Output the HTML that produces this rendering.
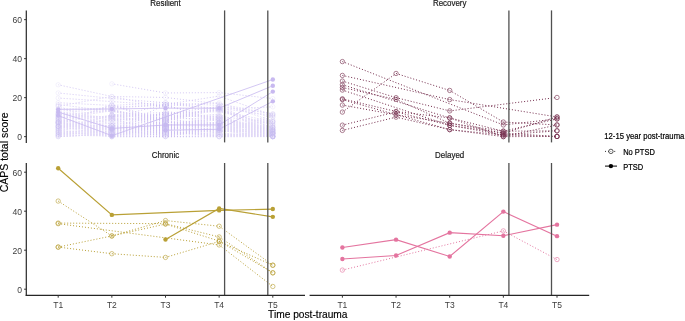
<!DOCTYPE html>
<html><head><meta charset="utf-8"><style>
html,body{margin:0;padding:0;background:#fff;}
body{width:685px;height:321px;overflow:hidden;}
svg{display:block;filter:blur(0.3px);}
</style></head><body>
<svg width="685" height="321" viewBox="0 0 685 321">
<defs>
<pattern id="vsp" patternUnits="userSpaceOnUse" x="57.692" y="0" width="2.9808" height="321"><rect x="0" y="0" width="1.0" height="321" fill="#fff"/></pattern>
<mask id="vs" maskUnits="userSpaceOnUse" x="0" y="0" width="685" height="321"><rect x="0" y="0" width="685" height="321" fill="url(#vsp)"/></mask>
</defs>
<rect width="685" height="321" fill="#fff"/>
<g mask="url(#vs)"><path d="M58.19,84.78 L111.85,96.48 L165.50,97.46 L219.15,103.89 L272.81,114.03 M58.19,92.97 L111.85,98.43 L165.50,102.72 L219.15,105.45 L272.81,117.15 M58.19,98.04 L111.85,101.55 L165.50,105.45 L219.15,102.72 L272.81,121.05 M111.85,83.81 L165.50,92.97 L219.15,92.58 L272.81,98.62 M58.19,102.72 L111.85,105.45 L165.50,102.72 L219.15,109.35 L272.81,106.81 M58.19,111.30 L111.85,107.40 L165.50,104.48 L219.15,96.09 L272.81,115.20 M58.19,106.23 L111.85,96.48 L165.50,107.40 L219.15,110.33 L272.81,124.95 M58.19,119.88 L111.85,128.66 L165.50,122.81 L219.15,119.30 L272.81,130.02 M58.19,135.09 L111.85,136.06 L165.50,136.65 L272.81,133.92 M111.85,129.44 L165.50,126.90 L219.15,132.75 L272.81,114.42 M58.19,113.64 L111.85,117.34 L165.50,104.48 L219.15,108.18 L272.81,115.40 M111.85,110.52 L165.50,119.49 L219.15,108.57 L272.81,127.88 M58.19,126.12 L111.85,125.34 L165.50,125.54 L272.81,127.29 M58.19,126.12 L111.85,128.85 L165.50,129.24 L219.15,123.78 L272.81,135.48 M58.19,128.66 L111.85,129.05 L165.50,127.48 L219.15,116.96 L272.81,132.56 M58.19,126.90 L111.85,125.73 L165.50,130.02 L219.15,121.64 L272.81,119.88 M58.19,113.25 L111.85,107.79 L165.50,105.25 L219.15,120.47 L272.81,126.90 M58.19,114.42 L111.85,117.54 L165.50,114.23 L219.15,109.74 M58.19,126.32 L111.85,135.48 L219.15,132.94 L272.81,136.65 M58.19,122.22 L111.85,132.75 L165.50,135.28 L219.15,126.71 L272.81,136.65 M58.19,135.48 L111.85,130.61 L165.50,104.48 L219.15,122.22 L272.81,133.72 M58.19,124.37 L111.85,104.67 L165.50,121.25 L219.15,109.35 L272.81,132.75 M58.19,116.56 L111.85,109.74 L165.50,122.22 L219.15,122.61 L272.81,129.44 M111.85,120.47 L165.50,117.15 L219.15,109.35 L272.81,131.19 M58.19,136.65 L111.85,134.12 L165.50,136.65 L219.15,128.66 L272.81,133.34 M58.19,132.56 L111.85,128.66 L165.50,125.73 L219.15,123.39 L272.81,130.22 M58.19,115.79 L111.85,136.65 L219.15,115.79 L272.81,136.46 M58.19,126.51 L111.85,125.34 L165.50,134.50 L219.15,128.27 L272.81,131.00 M58.19,126.12 L111.85,119.69 L165.50,119.10 L219.15,117.93 L272.81,132.36 M58.19,128.46 L111.85,118.32 L165.50,133.92 L219.15,122.22 L272.81,133.34 M58.19,124.37 L111.85,123.59 L165.50,113.25 L219.15,111.69 L272.81,124.17 M58.19,104.48 L111.85,111.50 L165.50,117.74 L219.15,114.23 L272.81,136.06 M111.85,127.88 L219.15,122.22 L272.81,130.22 M58.19,121.44 L111.85,129.24 L165.50,136.06 L219.15,128.85 L272.81,133.34 M58.19,134.50 L111.85,125.73 L165.50,131.38 L219.15,136.65 L272.81,136.46 M58.19,114.62 L111.85,110.72 L165.50,120.08 L219.15,106.43 L272.81,113.64 M58.19,133.72 L111.85,133.92 L165.50,125.73 L219.15,136.65 L272.81,131.38 M58.19,130.61 L111.85,136.06 L165.50,124.76 L219.15,126.12 L272.81,133.53 M58.19,119.10 L111.85,129.44 L165.50,126.71 L219.15,130.61 L272.81,136.65 M58.19,126.12 L111.85,120.66 L165.50,114.03 L219.15,106.43 L272.81,128.46 M58.19,120.86 L111.85,136.65 L165.50,125.54 L219.15,126.51 L272.81,121.64 M58.19,133.72 L111.85,132.94 L165.50,131.78 L272.81,136.65 M58.19,122.61 L111.85,136.65 L219.15,136.65 L272.81,136.65 M58.19,120.08 L111.85,128.85 L165.50,116.76 L219.15,115.98 M58.19,108.77 L111.85,109.55 L165.50,121.25 L219.15,131.58 L272.81,127.68 M58.19,105.65 L111.85,128.85 L165.50,111.50 L219.15,117.34 L272.81,129.44 M58.19,130.61 L165.50,133.53 L219.15,134.50 L272.81,133.34 M58.19,115.20 L111.85,123.59 L165.50,122.42 L219.15,123.78 L272.81,125.54 M58.19,136.65 L111.85,133.53 L165.50,130.80 L219.15,136.26 L272.81,134.50 M111.85,114.62 L165.50,112.47 L219.15,119.69 L272.81,135.48 M58.19,118.71 L111.85,126.32 L165.50,128.27 L219.15,122.42 L272.81,127.48 M58.19,117.34 L111.85,118.32 L165.50,120.08 L219.15,106.81 L272.81,136.65 M58.19,121.64 L111.85,133.14 L165.50,120.66 L219.15,127.68 M58.19,122.61 L111.85,126.90 L165.50,129.44 L219.15,132.75 L272.81,116.56 M58.19,118.91 L111.85,110.72 L165.50,125.15 L219.15,119.88 L272.81,136.65 M58.19,122.81 L111.85,105.45 L165.50,119.88 M58.19,131.97 L111.85,131.97 L165.50,122.61 L219.15,125.54 L272.81,130.22 M58.19,131.97 L111.85,136.65 L165.50,136.65 L219.15,136.65 L272.81,129.44 M58.19,121.83 L111.85,115.40 L165.50,114.42 L219.15,110.52 L272.81,121.64 M58.19,127.88 L111.85,115.20 L165.50,126.12 L219.15,126.90 L272.81,136.65 M58.19,129.83 L111.85,125.73 L165.50,115.79 L219.15,134.70 L272.81,136.65 M58.19,123.39 L111.85,129.63 L165.50,130.80 L219.15,122.42 L272.81,131.78 M58.19,122.22 L111.85,134.90 L219.15,130.22 L272.81,136.65 M58.19,131.97 L111.85,115.01 L165.50,118.71 L219.15,125.54 L272.81,134.50 M58.19,134.90 L111.85,130.80 L165.50,132.75 L219.15,131.38 L272.81,131.78 M58.19,123.59 L111.85,104.67 L165.50,125.34 L219.15,118.52 L272.81,130.61 M58.19,116.96 L111.85,116.56 L165.50,115.20 L219.15,116.56 L272.81,122.22 M58.19,112.08 L165.50,128.85 L272.81,126.90 M58.19,127.09 L111.85,130.22 L165.50,127.29 L219.15,130.61 L272.81,132.94 M58.19,136.46 L111.85,134.31 L165.50,124.17 L219.15,130.02 L272.81,133.53 M58.19,129.24 L111.85,115.20 L165.50,124.37 L272.81,123.78 M58.19,117.34 L111.85,116.37 L165.50,114.42 L219.15,124.37 L272.81,121.83" fill="none" stroke="#c8b9f0" stroke-width="0.8"/></g>
<path d="M58.19,115.59 L111.85,135.68 L272.81,79.52" fill="none" stroke="#c8b9f0" stroke-width="0.8"/>
<path d="M58.19,109.35 L111.85,108.96 L165.50,108.18 L219.15,108.18 L272.81,85.75" fill="none" stroke="#c8b9f0" stroke-width="0.8"/>
<path d="M58.19,112.08 L111.85,128.46 L165.50,124.95 L219.15,124.95 L272.81,91.61" fill="none" stroke="#c8b9f0" stroke-width="0.8"/>
<path d="M165.50,130.22 L219.15,129.24 L272.81,101.36" fill="none" stroke="#c8b9f0" stroke-width="0.8"/>
<circle cx="58.19" cy="115.59" r="2.2" fill="#c8b9f0"/>
<circle cx="111.85" cy="135.68" r="2.2" fill="#c8b9f0"/>
<circle cx="272.81" cy="79.52" r="2.2" fill="#c8b9f0"/>
<circle cx="58.19" cy="109.35" r="2.2" fill="#c8b9f0"/>
<circle cx="111.85" cy="108.96" r="2.2" fill="#c8b9f0"/>
<circle cx="165.50" cy="108.18" r="2.2" fill="#c8b9f0"/>
<circle cx="219.15" cy="108.18" r="2.2" fill="#c8b9f0"/>
<circle cx="272.81" cy="85.75" r="2.2" fill="#c8b9f0"/>
<circle cx="58.19" cy="112.08" r="2.2" fill="#c8b9f0"/>
<circle cx="111.85" cy="128.46" r="2.2" fill="#c8b9f0"/>
<circle cx="165.50" cy="124.95" r="2.2" fill="#c8b9f0"/>
<circle cx="219.15" cy="124.95" r="2.2" fill="#c8b9f0"/>
<circle cx="272.81" cy="91.61" r="2.2" fill="#c8b9f0"/>
<circle cx="165.50" cy="130.22" r="2.2" fill="#c8b9f0"/>
<circle cx="219.15" cy="129.24" r="2.2" fill="#c8b9f0"/>
<circle cx="272.81" cy="101.36" r="2.2" fill="#c8b9f0"/>
<circle cx="58.19" cy="84.78" r="2.2" fill="none" stroke="#c8b9f0" stroke-width="0.6" stroke-opacity="0.32"/>
<circle cx="111.85" cy="96.48" r="2.2" fill="none" stroke="#c8b9f0" stroke-width="0.6" stroke-opacity="0.32"/>
<circle cx="165.50" cy="97.46" r="2.2" fill="none" stroke="#c8b9f0" stroke-width="0.6" stroke-opacity="0.32"/>
<circle cx="219.15" cy="103.89" r="2.2" fill="none" stroke="#c8b9f0" stroke-width="0.6" stroke-opacity="0.32"/>
<circle cx="272.81" cy="114.03" r="2.2" fill="none" stroke="#c8b9f0" stroke-width="0.6" stroke-opacity="0.32"/>
<circle cx="58.19" cy="92.97" r="2.2" fill="none" stroke="#c8b9f0" stroke-width="0.6" stroke-opacity="0.32"/>
<circle cx="111.85" cy="98.43" r="2.2" fill="none" stroke="#c8b9f0" stroke-width="0.6" stroke-opacity="0.32"/>
<circle cx="165.50" cy="102.72" r="2.2" fill="none" stroke="#c8b9f0" stroke-width="0.6" stroke-opacity="0.32"/>
<circle cx="219.15" cy="105.45" r="2.2" fill="none" stroke="#c8b9f0" stroke-width="0.6" stroke-opacity="0.32"/>
<circle cx="272.81" cy="117.15" r="2.2" fill="none" stroke="#c8b9f0" stroke-width="0.6" stroke-opacity="0.32"/>
<circle cx="58.19" cy="98.04" r="2.2" fill="none" stroke="#c8b9f0" stroke-width="0.6" stroke-opacity="0.32"/>
<circle cx="111.85" cy="101.55" r="2.2" fill="none" stroke="#c8b9f0" stroke-width="0.6" stroke-opacity="0.32"/>
<circle cx="165.50" cy="105.45" r="2.2" fill="none" stroke="#c8b9f0" stroke-width="0.6" stroke-opacity="0.32"/>
<circle cx="219.15" cy="102.72" r="2.2" fill="none" stroke="#c8b9f0" stroke-width="0.6" stroke-opacity="0.32"/>
<circle cx="272.81" cy="121.05" r="2.2" fill="none" stroke="#c8b9f0" stroke-width="0.6" stroke-opacity="0.32"/>
<circle cx="111.85" cy="83.81" r="2.2" fill="none" stroke="#c8b9f0" stroke-width="0.6" stroke-opacity="0.32"/>
<circle cx="165.50" cy="92.97" r="2.2" fill="none" stroke="#c8b9f0" stroke-width="0.6" stroke-opacity="0.32"/>
<circle cx="219.15" cy="92.58" r="2.2" fill="none" stroke="#c8b9f0" stroke-width="0.6" stroke-opacity="0.32"/>
<circle cx="272.81" cy="98.62" r="2.2" fill="none" stroke="#c8b9f0" stroke-width="0.6" stroke-opacity="0.32"/>
<circle cx="58.19" cy="102.72" r="2.2" fill="none" stroke="#c8b9f0" stroke-width="0.6" stroke-opacity="0.32"/>
<circle cx="111.85" cy="105.45" r="2.2" fill="none" stroke="#c8b9f0" stroke-width="0.6" stroke-opacity="0.32"/>
<circle cx="165.50" cy="102.72" r="2.2" fill="none" stroke="#c8b9f0" stroke-width="0.6" stroke-opacity="0.32"/>
<circle cx="219.15" cy="109.35" r="2.2" fill="none" stroke="#c8b9f0" stroke-width="0.6" stroke-opacity="0.32"/>
<circle cx="272.81" cy="106.81" r="2.2" fill="none" stroke="#c8b9f0" stroke-width="0.6" stroke-opacity="0.32"/>
<circle cx="58.19" cy="111.30" r="2.2" fill="none" stroke="#c8b9f0" stroke-width="0.6" stroke-opacity="0.32"/>
<circle cx="111.85" cy="107.40" r="2.2" fill="none" stroke="#c8b9f0" stroke-width="0.6" stroke-opacity="0.32"/>
<circle cx="165.50" cy="104.48" r="2.2" fill="none" stroke="#c8b9f0" stroke-width="0.6" stroke-opacity="0.32"/>
<circle cx="219.15" cy="96.09" r="2.2" fill="none" stroke="#c8b9f0" stroke-width="0.6" stroke-opacity="0.32"/>
<circle cx="272.81" cy="115.20" r="2.2" fill="none" stroke="#c8b9f0" stroke-width="0.6" stroke-opacity="0.32"/>
<circle cx="58.19" cy="106.23" r="2.2" fill="none" stroke="#c8b9f0" stroke-width="0.6" stroke-opacity="0.32"/>
<circle cx="111.85" cy="96.48" r="2.2" fill="none" stroke="#c8b9f0" stroke-width="0.6" stroke-opacity="0.32"/>
<circle cx="165.50" cy="107.40" r="2.2" fill="none" stroke="#c8b9f0" stroke-width="0.6" stroke-opacity="0.32"/>
<circle cx="219.15" cy="110.33" r="2.2" fill="none" stroke="#c8b9f0" stroke-width="0.6" stroke-opacity="0.32"/>
<circle cx="272.81" cy="124.95" r="2.2" fill="none" stroke="#c8b9f0" stroke-width="0.6" stroke-opacity="0.32"/>
<circle cx="58.19" cy="119.88" r="2.2" fill="none" stroke="#c8b9f0" stroke-width="0.6" stroke-opacity="0.32"/>
<circle cx="111.85" cy="128.66" r="2.2" fill="none" stroke="#c8b9f0" stroke-width="0.6" stroke-opacity="0.32"/>
<circle cx="165.50" cy="122.81" r="2.2" fill="none" stroke="#c8b9f0" stroke-width="0.6" stroke-opacity="0.32"/>
<circle cx="219.15" cy="119.30" r="2.2" fill="none" stroke="#c8b9f0" stroke-width="0.6" stroke-opacity="0.32"/>
<circle cx="272.81" cy="130.02" r="2.2" fill="none" stroke="#c8b9f0" stroke-width="0.6" stroke-opacity="0.32"/>
<circle cx="58.19" cy="135.09" r="2.2" fill="none" stroke="#c8b9f0" stroke-width="0.6" stroke-opacity="0.32"/>
<circle cx="111.85" cy="136.06" r="2.2" fill="none" stroke="#c8b9f0" stroke-width="0.6" stroke-opacity="0.32"/>
<circle cx="165.50" cy="136.65" r="2.2" fill="none" stroke="#c8b9f0" stroke-width="0.6" stroke-opacity="0.32"/>
<circle cx="272.81" cy="133.92" r="2.2" fill="none" stroke="#c8b9f0" stroke-width="0.6" stroke-opacity="0.32"/>
<circle cx="111.85" cy="129.44" r="2.2" fill="none" stroke="#c8b9f0" stroke-width="0.6" stroke-opacity="0.32"/>
<circle cx="165.50" cy="126.90" r="2.2" fill="none" stroke="#c8b9f0" stroke-width="0.6" stroke-opacity="0.32"/>
<circle cx="219.15" cy="132.75" r="2.2" fill="none" stroke="#c8b9f0" stroke-width="0.6" stroke-opacity="0.32"/>
<circle cx="272.81" cy="114.42" r="2.2" fill="none" stroke="#c8b9f0" stroke-width="0.6" stroke-opacity="0.32"/>
<circle cx="58.19" cy="113.64" r="2.2" fill="none" stroke="#c8b9f0" stroke-width="0.6" stroke-opacity="0.32"/>
<circle cx="111.85" cy="117.34" r="2.2" fill="none" stroke="#c8b9f0" stroke-width="0.6" stroke-opacity="0.32"/>
<circle cx="165.50" cy="104.48" r="2.2" fill="none" stroke="#c8b9f0" stroke-width="0.6" stroke-opacity="0.32"/>
<circle cx="219.15" cy="108.18" r="2.2" fill="none" stroke="#c8b9f0" stroke-width="0.6" stroke-opacity="0.32"/>
<circle cx="272.81" cy="115.40" r="2.2" fill="none" stroke="#c8b9f0" stroke-width="0.6" stroke-opacity="0.32"/>
<circle cx="111.85" cy="110.52" r="2.2" fill="none" stroke="#c8b9f0" stroke-width="0.6" stroke-opacity="0.32"/>
<circle cx="165.50" cy="119.49" r="2.2" fill="none" stroke="#c8b9f0" stroke-width="0.6" stroke-opacity="0.32"/>
<circle cx="219.15" cy="108.57" r="2.2" fill="none" stroke="#c8b9f0" stroke-width="0.6" stroke-opacity="0.32"/>
<circle cx="272.81" cy="127.88" r="2.2" fill="none" stroke="#c8b9f0" stroke-width="0.6" stroke-opacity="0.32"/>
<circle cx="58.19" cy="126.12" r="2.2" fill="none" stroke="#c8b9f0" stroke-width="0.6" stroke-opacity="0.32"/>
<circle cx="111.85" cy="125.34" r="2.2" fill="none" stroke="#c8b9f0" stroke-width="0.6" stroke-opacity="0.32"/>
<circle cx="165.50" cy="125.54" r="2.2" fill="none" stroke="#c8b9f0" stroke-width="0.6" stroke-opacity="0.32"/>
<circle cx="272.81" cy="127.29" r="2.2" fill="none" stroke="#c8b9f0" stroke-width="0.6" stroke-opacity="0.32"/>
<circle cx="58.19" cy="126.12" r="2.2" fill="none" stroke="#c8b9f0" stroke-width="0.6" stroke-opacity="0.32"/>
<circle cx="111.85" cy="128.85" r="2.2" fill="none" stroke="#c8b9f0" stroke-width="0.6" stroke-opacity="0.32"/>
<circle cx="165.50" cy="129.24" r="2.2" fill="none" stroke="#c8b9f0" stroke-width="0.6" stroke-opacity="0.32"/>
<circle cx="219.15" cy="123.78" r="2.2" fill="none" stroke="#c8b9f0" stroke-width="0.6" stroke-opacity="0.32"/>
<circle cx="272.81" cy="135.48" r="2.2" fill="none" stroke="#c8b9f0" stroke-width="0.6" stroke-opacity="0.32"/>
<circle cx="58.19" cy="128.66" r="2.2" fill="none" stroke="#c8b9f0" stroke-width="0.6" stroke-opacity="0.32"/>
<circle cx="111.85" cy="129.05" r="2.2" fill="none" stroke="#c8b9f0" stroke-width="0.6" stroke-opacity="0.32"/>
<circle cx="165.50" cy="127.48" r="2.2" fill="none" stroke="#c8b9f0" stroke-width="0.6" stroke-opacity="0.32"/>
<circle cx="219.15" cy="116.96" r="2.2" fill="none" stroke="#c8b9f0" stroke-width="0.6" stroke-opacity="0.32"/>
<circle cx="272.81" cy="132.56" r="2.2" fill="none" stroke="#c8b9f0" stroke-width="0.6" stroke-opacity="0.32"/>
<circle cx="58.19" cy="126.90" r="2.2" fill="none" stroke="#c8b9f0" stroke-width="0.6" stroke-opacity="0.32"/>
<circle cx="111.85" cy="125.73" r="2.2" fill="none" stroke="#c8b9f0" stroke-width="0.6" stroke-opacity="0.32"/>
<circle cx="165.50" cy="130.02" r="2.2" fill="none" stroke="#c8b9f0" stroke-width="0.6" stroke-opacity="0.32"/>
<circle cx="219.15" cy="121.64" r="2.2" fill="none" stroke="#c8b9f0" stroke-width="0.6" stroke-opacity="0.32"/>
<circle cx="272.81" cy="119.88" r="2.2" fill="none" stroke="#c8b9f0" stroke-width="0.6" stroke-opacity="0.32"/>
<circle cx="58.19" cy="113.25" r="2.2" fill="none" stroke="#c8b9f0" stroke-width="0.6" stroke-opacity="0.32"/>
<circle cx="111.85" cy="107.79" r="2.2" fill="none" stroke="#c8b9f0" stroke-width="0.6" stroke-opacity="0.32"/>
<circle cx="165.50" cy="105.25" r="2.2" fill="none" stroke="#c8b9f0" stroke-width="0.6" stroke-opacity="0.32"/>
<circle cx="219.15" cy="120.47" r="2.2" fill="none" stroke="#c8b9f0" stroke-width="0.6" stroke-opacity="0.32"/>
<circle cx="272.81" cy="126.90" r="2.2" fill="none" stroke="#c8b9f0" stroke-width="0.6" stroke-opacity="0.32"/>
<circle cx="58.19" cy="114.42" r="2.2" fill="none" stroke="#c8b9f0" stroke-width="0.6" stroke-opacity="0.32"/>
<circle cx="111.85" cy="117.54" r="2.2" fill="none" stroke="#c8b9f0" stroke-width="0.6" stroke-opacity="0.32"/>
<circle cx="165.50" cy="114.23" r="2.2" fill="none" stroke="#c8b9f0" stroke-width="0.6" stroke-opacity="0.32"/>
<circle cx="219.15" cy="109.74" r="2.2" fill="none" stroke="#c8b9f0" stroke-width="0.6" stroke-opacity="0.32"/>
<circle cx="58.19" cy="126.32" r="2.2" fill="none" stroke="#c8b9f0" stroke-width="0.6" stroke-opacity="0.32"/>
<circle cx="111.85" cy="135.48" r="2.2" fill="none" stroke="#c8b9f0" stroke-width="0.6" stroke-opacity="0.32"/>
<circle cx="219.15" cy="132.94" r="2.2" fill="none" stroke="#c8b9f0" stroke-width="0.6" stroke-opacity="0.32"/>
<circle cx="272.81" cy="136.65" r="2.2" fill="none" stroke="#c8b9f0" stroke-width="0.6" stroke-opacity="0.32"/>
<circle cx="58.19" cy="122.22" r="2.2" fill="none" stroke="#c8b9f0" stroke-width="0.6" stroke-opacity="0.32"/>
<circle cx="111.85" cy="132.75" r="2.2" fill="none" stroke="#c8b9f0" stroke-width="0.6" stroke-opacity="0.32"/>
<circle cx="165.50" cy="135.28" r="2.2" fill="none" stroke="#c8b9f0" stroke-width="0.6" stroke-opacity="0.32"/>
<circle cx="219.15" cy="126.71" r="2.2" fill="none" stroke="#c8b9f0" stroke-width="0.6" stroke-opacity="0.32"/>
<circle cx="272.81" cy="136.65" r="2.2" fill="none" stroke="#c8b9f0" stroke-width="0.6" stroke-opacity="0.32"/>
<circle cx="58.19" cy="135.48" r="2.2" fill="none" stroke="#c8b9f0" stroke-width="0.6" stroke-opacity="0.32"/>
<circle cx="111.85" cy="130.61" r="2.2" fill="none" stroke="#c8b9f0" stroke-width="0.6" stroke-opacity="0.32"/>
<circle cx="165.50" cy="104.48" r="2.2" fill="none" stroke="#c8b9f0" stroke-width="0.6" stroke-opacity="0.32"/>
<circle cx="219.15" cy="122.22" r="2.2" fill="none" stroke="#c8b9f0" stroke-width="0.6" stroke-opacity="0.32"/>
<circle cx="272.81" cy="133.72" r="2.2" fill="none" stroke="#c8b9f0" stroke-width="0.6" stroke-opacity="0.32"/>
<circle cx="58.19" cy="124.37" r="2.2" fill="none" stroke="#c8b9f0" stroke-width="0.6" stroke-opacity="0.32"/>
<circle cx="111.85" cy="104.67" r="2.2" fill="none" stroke="#c8b9f0" stroke-width="0.6" stroke-opacity="0.32"/>
<circle cx="165.50" cy="121.25" r="2.2" fill="none" stroke="#c8b9f0" stroke-width="0.6" stroke-opacity="0.32"/>
<circle cx="219.15" cy="109.35" r="2.2" fill="none" stroke="#c8b9f0" stroke-width="0.6" stroke-opacity="0.32"/>
<circle cx="272.81" cy="132.75" r="2.2" fill="none" stroke="#c8b9f0" stroke-width="0.6" stroke-opacity="0.32"/>
<circle cx="58.19" cy="116.56" r="2.2" fill="none" stroke="#c8b9f0" stroke-width="0.6" stroke-opacity="0.32"/>
<circle cx="111.85" cy="109.74" r="2.2" fill="none" stroke="#c8b9f0" stroke-width="0.6" stroke-opacity="0.32"/>
<circle cx="165.50" cy="122.22" r="2.2" fill="none" stroke="#c8b9f0" stroke-width="0.6" stroke-opacity="0.32"/>
<circle cx="219.15" cy="122.61" r="2.2" fill="none" stroke="#c8b9f0" stroke-width="0.6" stroke-opacity="0.32"/>
<circle cx="272.81" cy="129.44" r="2.2" fill="none" stroke="#c8b9f0" stroke-width="0.6" stroke-opacity="0.32"/>
<circle cx="111.85" cy="120.47" r="2.2" fill="none" stroke="#c8b9f0" stroke-width="0.6" stroke-opacity="0.32"/>
<circle cx="165.50" cy="117.15" r="2.2" fill="none" stroke="#c8b9f0" stroke-width="0.6" stroke-opacity="0.32"/>
<circle cx="219.15" cy="109.35" r="2.2" fill="none" stroke="#c8b9f0" stroke-width="0.6" stroke-opacity="0.32"/>
<circle cx="272.81" cy="131.19" r="2.2" fill="none" stroke="#c8b9f0" stroke-width="0.6" stroke-opacity="0.32"/>
<circle cx="58.19" cy="136.65" r="2.2" fill="none" stroke="#c8b9f0" stroke-width="0.6" stroke-opacity="0.32"/>
<circle cx="111.85" cy="134.12" r="2.2" fill="none" stroke="#c8b9f0" stroke-width="0.6" stroke-opacity="0.32"/>
<circle cx="165.50" cy="136.65" r="2.2" fill="none" stroke="#c8b9f0" stroke-width="0.6" stroke-opacity="0.32"/>
<circle cx="219.15" cy="128.66" r="2.2" fill="none" stroke="#c8b9f0" stroke-width="0.6" stroke-opacity="0.32"/>
<circle cx="272.81" cy="133.34" r="2.2" fill="none" stroke="#c8b9f0" stroke-width="0.6" stroke-opacity="0.32"/>
<circle cx="58.19" cy="132.56" r="2.2" fill="none" stroke="#c8b9f0" stroke-width="0.6" stroke-opacity="0.32"/>
<circle cx="111.85" cy="128.66" r="2.2" fill="none" stroke="#c8b9f0" stroke-width="0.6" stroke-opacity="0.32"/>
<circle cx="165.50" cy="125.73" r="2.2" fill="none" stroke="#c8b9f0" stroke-width="0.6" stroke-opacity="0.32"/>
<circle cx="219.15" cy="123.39" r="2.2" fill="none" stroke="#c8b9f0" stroke-width="0.6" stroke-opacity="0.32"/>
<circle cx="272.81" cy="130.22" r="2.2" fill="none" stroke="#c8b9f0" stroke-width="0.6" stroke-opacity="0.32"/>
<circle cx="58.19" cy="115.79" r="2.2" fill="none" stroke="#c8b9f0" stroke-width="0.6" stroke-opacity="0.32"/>
<circle cx="111.85" cy="136.65" r="2.2" fill="none" stroke="#c8b9f0" stroke-width="0.6" stroke-opacity="0.32"/>
<circle cx="219.15" cy="115.79" r="2.2" fill="none" stroke="#c8b9f0" stroke-width="0.6" stroke-opacity="0.32"/>
<circle cx="272.81" cy="136.46" r="2.2" fill="none" stroke="#c8b9f0" stroke-width="0.6" stroke-opacity="0.32"/>
<circle cx="58.19" cy="126.51" r="2.2" fill="none" stroke="#c8b9f0" stroke-width="0.6" stroke-opacity="0.32"/>
<circle cx="111.85" cy="125.34" r="2.2" fill="none" stroke="#c8b9f0" stroke-width="0.6" stroke-opacity="0.32"/>
<circle cx="165.50" cy="134.50" r="2.2" fill="none" stroke="#c8b9f0" stroke-width="0.6" stroke-opacity="0.32"/>
<circle cx="219.15" cy="128.27" r="2.2" fill="none" stroke="#c8b9f0" stroke-width="0.6" stroke-opacity="0.32"/>
<circle cx="272.81" cy="131.00" r="2.2" fill="none" stroke="#c8b9f0" stroke-width="0.6" stroke-opacity="0.32"/>
<circle cx="58.19" cy="126.12" r="2.2" fill="none" stroke="#c8b9f0" stroke-width="0.6" stroke-opacity="0.32"/>
<circle cx="111.85" cy="119.69" r="2.2" fill="none" stroke="#c8b9f0" stroke-width="0.6" stroke-opacity="0.32"/>
<circle cx="165.50" cy="119.10" r="2.2" fill="none" stroke="#c8b9f0" stroke-width="0.6" stroke-opacity="0.32"/>
<circle cx="219.15" cy="117.93" r="2.2" fill="none" stroke="#c8b9f0" stroke-width="0.6" stroke-opacity="0.32"/>
<circle cx="272.81" cy="132.36" r="2.2" fill="none" stroke="#c8b9f0" stroke-width="0.6" stroke-opacity="0.32"/>
<circle cx="58.19" cy="128.46" r="2.2" fill="none" stroke="#c8b9f0" stroke-width="0.6" stroke-opacity="0.32"/>
<circle cx="111.85" cy="118.32" r="2.2" fill="none" stroke="#c8b9f0" stroke-width="0.6" stroke-opacity="0.32"/>
<circle cx="165.50" cy="133.92" r="2.2" fill="none" stroke="#c8b9f0" stroke-width="0.6" stroke-opacity="0.32"/>
<circle cx="219.15" cy="122.22" r="2.2" fill="none" stroke="#c8b9f0" stroke-width="0.6" stroke-opacity="0.32"/>
<circle cx="272.81" cy="133.34" r="2.2" fill="none" stroke="#c8b9f0" stroke-width="0.6" stroke-opacity="0.32"/>
<circle cx="58.19" cy="124.37" r="2.2" fill="none" stroke="#c8b9f0" stroke-width="0.6" stroke-opacity="0.32"/>
<circle cx="111.85" cy="123.59" r="2.2" fill="none" stroke="#c8b9f0" stroke-width="0.6" stroke-opacity="0.32"/>
<circle cx="165.50" cy="113.25" r="2.2" fill="none" stroke="#c8b9f0" stroke-width="0.6" stroke-opacity="0.32"/>
<circle cx="219.15" cy="111.69" r="2.2" fill="none" stroke="#c8b9f0" stroke-width="0.6" stroke-opacity="0.32"/>
<circle cx="272.81" cy="124.17" r="2.2" fill="none" stroke="#c8b9f0" stroke-width="0.6" stroke-opacity="0.32"/>
<circle cx="58.19" cy="104.48" r="2.2" fill="none" stroke="#c8b9f0" stroke-width="0.6" stroke-opacity="0.32"/>
<circle cx="111.85" cy="111.50" r="2.2" fill="none" stroke="#c8b9f0" stroke-width="0.6" stroke-opacity="0.32"/>
<circle cx="165.50" cy="117.74" r="2.2" fill="none" stroke="#c8b9f0" stroke-width="0.6" stroke-opacity="0.32"/>
<circle cx="219.15" cy="114.23" r="2.2" fill="none" stroke="#c8b9f0" stroke-width="0.6" stroke-opacity="0.32"/>
<circle cx="272.81" cy="136.06" r="2.2" fill="none" stroke="#c8b9f0" stroke-width="0.6" stroke-opacity="0.32"/>
<circle cx="111.85" cy="127.88" r="2.2" fill="none" stroke="#c8b9f0" stroke-width="0.6" stroke-opacity="0.32"/>
<circle cx="219.15" cy="122.22" r="2.2" fill="none" stroke="#c8b9f0" stroke-width="0.6" stroke-opacity="0.32"/>
<circle cx="272.81" cy="130.22" r="2.2" fill="none" stroke="#c8b9f0" stroke-width="0.6" stroke-opacity="0.32"/>
<circle cx="58.19" cy="121.44" r="2.2" fill="none" stroke="#c8b9f0" stroke-width="0.6" stroke-opacity="0.32"/>
<circle cx="111.85" cy="129.24" r="2.2" fill="none" stroke="#c8b9f0" stroke-width="0.6" stroke-opacity="0.32"/>
<circle cx="165.50" cy="136.06" r="2.2" fill="none" stroke="#c8b9f0" stroke-width="0.6" stroke-opacity="0.32"/>
<circle cx="219.15" cy="128.85" r="2.2" fill="none" stroke="#c8b9f0" stroke-width="0.6" stroke-opacity="0.32"/>
<circle cx="272.81" cy="133.34" r="2.2" fill="none" stroke="#c8b9f0" stroke-width="0.6" stroke-opacity="0.32"/>
<circle cx="58.19" cy="134.50" r="2.2" fill="none" stroke="#c8b9f0" stroke-width="0.6" stroke-opacity="0.32"/>
<circle cx="111.85" cy="125.73" r="2.2" fill="none" stroke="#c8b9f0" stroke-width="0.6" stroke-opacity="0.32"/>
<circle cx="165.50" cy="131.38" r="2.2" fill="none" stroke="#c8b9f0" stroke-width="0.6" stroke-opacity="0.32"/>
<circle cx="219.15" cy="136.65" r="2.2" fill="none" stroke="#c8b9f0" stroke-width="0.6" stroke-opacity="0.32"/>
<circle cx="272.81" cy="136.46" r="2.2" fill="none" stroke="#c8b9f0" stroke-width="0.6" stroke-opacity="0.32"/>
<circle cx="58.19" cy="114.62" r="2.2" fill="none" stroke="#c8b9f0" stroke-width="0.6" stroke-opacity="0.32"/>
<circle cx="111.85" cy="110.72" r="2.2" fill="none" stroke="#c8b9f0" stroke-width="0.6" stroke-opacity="0.32"/>
<circle cx="165.50" cy="120.08" r="2.2" fill="none" stroke="#c8b9f0" stroke-width="0.6" stroke-opacity="0.32"/>
<circle cx="219.15" cy="106.43" r="2.2" fill="none" stroke="#c8b9f0" stroke-width="0.6" stroke-opacity="0.32"/>
<circle cx="272.81" cy="113.64" r="2.2" fill="none" stroke="#c8b9f0" stroke-width="0.6" stroke-opacity="0.32"/>
<circle cx="58.19" cy="133.72" r="2.2" fill="none" stroke="#c8b9f0" stroke-width="0.6" stroke-opacity="0.32"/>
<circle cx="111.85" cy="133.92" r="2.2" fill="none" stroke="#c8b9f0" stroke-width="0.6" stroke-opacity="0.32"/>
<circle cx="165.50" cy="125.73" r="2.2" fill="none" stroke="#c8b9f0" stroke-width="0.6" stroke-opacity="0.32"/>
<circle cx="219.15" cy="136.65" r="2.2" fill="none" stroke="#c8b9f0" stroke-width="0.6" stroke-opacity="0.32"/>
<circle cx="272.81" cy="131.38" r="2.2" fill="none" stroke="#c8b9f0" stroke-width="0.6" stroke-opacity="0.32"/>
<circle cx="58.19" cy="130.61" r="2.2" fill="none" stroke="#c8b9f0" stroke-width="0.6" stroke-opacity="0.32"/>
<circle cx="111.85" cy="136.06" r="2.2" fill="none" stroke="#c8b9f0" stroke-width="0.6" stroke-opacity="0.32"/>
<circle cx="165.50" cy="124.76" r="2.2" fill="none" stroke="#c8b9f0" stroke-width="0.6" stroke-opacity="0.32"/>
<circle cx="219.15" cy="126.12" r="2.2" fill="none" stroke="#c8b9f0" stroke-width="0.6" stroke-opacity="0.32"/>
<circle cx="272.81" cy="133.53" r="2.2" fill="none" stroke="#c8b9f0" stroke-width="0.6" stroke-opacity="0.32"/>
<circle cx="58.19" cy="119.10" r="2.2" fill="none" stroke="#c8b9f0" stroke-width="0.6" stroke-opacity="0.32"/>
<circle cx="111.85" cy="129.44" r="2.2" fill="none" stroke="#c8b9f0" stroke-width="0.6" stroke-opacity="0.32"/>
<circle cx="165.50" cy="126.71" r="2.2" fill="none" stroke="#c8b9f0" stroke-width="0.6" stroke-opacity="0.32"/>
<circle cx="219.15" cy="130.61" r="2.2" fill="none" stroke="#c8b9f0" stroke-width="0.6" stroke-opacity="0.32"/>
<circle cx="272.81" cy="136.65" r="2.2" fill="none" stroke="#c8b9f0" stroke-width="0.6" stroke-opacity="0.32"/>
<circle cx="58.19" cy="126.12" r="2.2" fill="none" stroke="#c8b9f0" stroke-width="0.6" stroke-opacity="0.32"/>
<circle cx="111.85" cy="120.66" r="2.2" fill="none" stroke="#c8b9f0" stroke-width="0.6" stroke-opacity="0.32"/>
<circle cx="165.50" cy="114.03" r="2.2" fill="none" stroke="#c8b9f0" stroke-width="0.6" stroke-opacity="0.32"/>
<circle cx="219.15" cy="106.43" r="2.2" fill="none" stroke="#c8b9f0" stroke-width="0.6" stroke-opacity="0.32"/>
<circle cx="272.81" cy="128.46" r="2.2" fill="none" stroke="#c8b9f0" stroke-width="0.6" stroke-opacity="0.32"/>
<circle cx="58.19" cy="120.86" r="2.2" fill="none" stroke="#c8b9f0" stroke-width="0.6" stroke-opacity="0.32"/>
<circle cx="111.85" cy="136.65" r="2.2" fill="none" stroke="#c8b9f0" stroke-width="0.6" stroke-opacity="0.32"/>
<circle cx="165.50" cy="125.54" r="2.2" fill="none" stroke="#c8b9f0" stroke-width="0.6" stroke-opacity="0.32"/>
<circle cx="219.15" cy="126.51" r="2.2" fill="none" stroke="#c8b9f0" stroke-width="0.6" stroke-opacity="0.32"/>
<circle cx="272.81" cy="121.64" r="2.2" fill="none" stroke="#c8b9f0" stroke-width="0.6" stroke-opacity="0.32"/>
<circle cx="58.19" cy="133.72" r="2.2" fill="none" stroke="#c8b9f0" stroke-width="0.6" stroke-opacity="0.32"/>
<circle cx="111.85" cy="132.94" r="2.2" fill="none" stroke="#c8b9f0" stroke-width="0.6" stroke-opacity="0.32"/>
<circle cx="165.50" cy="131.78" r="2.2" fill="none" stroke="#c8b9f0" stroke-width="0.6" stroke-opacity="0.32"/>
<circle cx="272.81" cy="136.65" r="2.2" fill="none" stroke="#c8b9f0" stroke-width="0.6" stroke-opacity="0.32"/>
<circle cx="58.19" cy="122.61" r="2.2" fill="none" stroke="#c8b9f0" stroke-width="0.6" stroke-opacity="0.32"/>
<circle cx="111.85" cy="136.65" r="2.2" fill="none" stroke="#c8b9f0" stroke-width="0.6" stroke-opacity="0.32"/>
<circle cx="219.15" cy="136.65" r="2.2" fill="none" stroke="#c8b9f0" stroke-width="0.6" stroke-opacity="0.32"/>
<circle cx="272.81" cy="136.65" r="2.2" fill="none" stroke="#c8b9f0" stroke-width="0.6" stroke-opacity="0.32"/>
<circle cx="58.19" cy="120.08" r="2.2" fill="none" stroke="#c8b9f0" stroke-width="0.6" stroke-opacity="0.32"/>
<circle cx="111.85" cy="128.85" r="2.2" fill="none" stroke="#c8b9f0" stroke-width="0.6" stroke-opacity="0.32"/>
<circle cx="165.50" cy="116.76" r="2.2" fill="none" stroke="#c8b9f0" stroke-width="0.6" stroke-opacity="0.32"/>
<circle cx="219.15" cy="115.98" r="2.2" fill="none" stroke="#c8b9f0" stroke-width="0.6" stroke-opacity="0.32"/>
<circle cx="58.19" cy="108.77" r="2.2" fill="none" stroke="#c8b9f0" stroke-width="0.6" stroke-opacity="0.32"/>
<circle cx="111.85" cy="109.55" r="2.2" fill="none" stroke="#c8b9f0" stroke-width="0.6" stroke-opacity="0.32"/>
<circle cx="165.50" cy="121.25" r="2.2" fill="none" stroke="#c8b9f0" stroke-width="0.6" stroke-opacity="0.32"/>
<circle cx="219.15" cy="131.58" r="2.2" fill="none" stroke="#c8b9f0" stroke-width="0.6" stroke-opacity="0.32"/>
<circle cx="272.81" cy="127.68" r="2.2" fill="none" stroke="#c8b9f0" stroke-width="0.6" stroke-opacity="0.32"/>
<circle cx="58.19" cy="105.65" r="2.2" fill="none" stroke="#c8b9f0" stroke-width="0.6" stroke-opacity="0.32"/>
<circle cx="111.85" cy="128.85" r="2.2" fill="none" stroke="#c8b9f0" stroke-width="0.6" stroke-opacity="0.32"/>
<circle cx="165.50" cy="111.50" r="2.2" fill="none" stroke="#c8b9f0" stroke-width="0.6" stroke-opacity="0.32"/>
<circle cx="219.15" cy="117.34" r="2.2" fill="none" stroke="#c8b9f0" stroke-width="0.6" stroke-opacity="0.32"/>
<circle cx="272.81" cy="129.44" r="2.2" fill="none" stroke="#c8b9f0" stroke-width="0.6" stroke-opacity="0.32"/>
<circle cx="58.19" cy="130.61" r="2.2" fill="none" stroke="#c8b9f0" stroke-width="0.6" stroke-opacity="0.32"/>
<circle cx="165.50" cy="133.53" r="2.2" fill="none" stroke="#c8b9f0" stroke-width="0.6" stroke-opacity="0.32"/>
<circle cx="219.15" cy="134.50" r="2.2" fill="none" stroke="#c8b9f0" stroke-width="0.6" stroke-opacity="0.32"/>
<circle cx="272.81" cy="133.34" r="2.2" fill="none" stroke="#c8b9f0" stroke-width="0.6" stroke-opacity="0.32"/>
<circle cx="58.19" cy="115.20" r="2.2" fill="none" stroke="#c8b9f0" stroke-width="0.6" stroke-opacity="0.32"/>
<circle cx="111.85" cy="123.59" r="2.2" fill="none" stroke="#c8b9f0" stroke-width="0.6" stroke-opacity="0.32"/>
<circle cx="165.50" cy="122.42" r="2.2" fill="none" stroke="#c8b9f0" stroke-width="0.6" stroke-opacity="0.32"/>
<circle cx="219.15" cy="123.78" r="2.2" fill="none" stroke="#c8b9f0" stroke-width="0.6" stroke-opacity="0.32"/>
<circle cx="272.81" cy="125.54" r="2.2" fill="none" stroke="#c8b9f0" stroke-width="0.6" stroke-opacity="0.32"/>
<circle cx="58.19" cy="136.65" r="2.2" fill="none" stroke="#c8b9f0" stroke-width="0.6" stroke-opacity="0.32"/>
<circle cx="111.85" cy="133.53" r="2.2" fill="none" stroke="#c8b9f0" stroke-width="0.6" stroke-opacity="0.32"/>
<circle cx="165.50" cy="130.80" r="2.2" fill="none" stroke="#c8b9f0" stroke-width="0.6" stroke-opacity="0.32"/>
<circle cx="219.15" cy="136.26" r="2.2" fill="none" stroke="#c8b9f0" stroke-width="0.6" stroke-opacity="0.32"/>
<circle cx="272.81" cy="134.50" r="2.2" fill="none" stroke="#c8b9f0" stroke-width="0.6" stroke-opacity="0.32"/>
<circle cx="111.85" cy="114.62" r="2.2" fill="none" stroke="#c8b9f0" stroke-width="0.6" stroke-opacity="0.32"/>
<circle cx="165.50" cy="112.47" r="2.2" fill="none" stroke="#c8b9f0" stroke-width="0.6" stroke-opacity="0.32"/>
<circle cx="219.15" cy="119.69" r="2.2" fill="none" stroke="#c8b9f0" stroke-width="0.6" stroke-opacity="0.32"/>
<circle cx="272.81" cy="135.48" r="2.2" fill="none" stroke="#c8b9f0" stroke-width="0.6" stroke-opacity="0.32"/>
<circle cx="58.19" cy="118.71" r="2.2" fill="none" stroke="#c8b9f0" stroke-width="0.6" stroke-opacity="0.32"/>
<circle cx="111.85" cy="126.32" r="2.2" fill="none" stroke="#c8b9f0" stroke-width="0.6" stroke-opacity="0.32"/>
<circle cx="165.50" cy="128.27" r="2.2" fill="none" stroke="#c8b9f0" stroke-width="0.6" stroke-opacity="0.32"/>
<circle cx="219.15" cy="122.42" r="2.2" fill="none" stroke="#c8b9f0" stroke-width="0.6" stroke-opacity="0.32"/>
<circle cx="272.81" cy="127.48" r="2.2" fill="none" stroke="#c8b9f0" stroke-width="0.6" stroke-opacity="0.32"/>
<circle cx="58.19" cy="117.34" r="2.2" fill="none" stroke="#c8b9f0" stroke-width="0.6" stroke-opacity="0.32"/>
<circle cx="111.85" cy="118.32" r="2.2" fill="none" stroke="#c8b9f0" stroke-width="0.6" stroke-opacity="0.32"/>
<circle cx="165.50" cy="120.08" r="2.2" fill="none" stroke="#c8b9f0" stroke-width="0.6" stroke-opacity="0.32"/>
<circle cx="219.15" cy="106.81" r="2.2" fill="none" stroke="#c8b9f0" stroke-width="0.6" stroke-opacity="0.32"/>
<circle cx="272.81" cy="136.65" r="2.2" fill="none" stroke="#c8b9f0" stroke-width="0.6" stroke-opacity="0.32"/>
<circle cx="58.19" cy="121.64" r="2.2" fill="none" stroke="#c8b9f0" stroke-width="0.6" stroke-opacity="0.32"/>
<circle cx="111.85" cy="133.14" r="2.2" fill="none" stroke="#c8b9f0" stroke-width="0.6" stroke-opacity="0.32"/>
<circle cx="165.50" cy="120.66" r="2.2" fill="none" stroke="#c8b9f0" stroke-width="0.6" stroke-opacity="0.32"/>
<circle cx="219.15" cy="127.68" r="2.2" fill="none" stroke="#c8b9f0" stroke-width="0.6" stroke-opacity="0.32"/>
<circle cx="58.19" cy="122.61" r="2.2" fill="none" stroke="#c8b9f0" stroke-width="0.6" stroke-opacity="0.32"/>
<circle cx="111.85" cy="126.90" r="2.2" fill="none" stroke="#c8b9f0" stroke-width="0.6" stroke-opacity="0.32"/>
<circle cx="165.50" cy="129.44" r="2.2" fill="none" stroke="#c8b9f0" stroke-width="0.6" stroke-opacity="0.32"/>
<circle cx="219.15" cy="132.75" r="2.2" fill="none" stroke="#c8b9f0" stroke-width="0.6" stroke-opacity="0.32"/>
<circle cx="272.81" cy="116.56" r="2.2" fill="none" stroke="#c8b9f0" stroke-width="0.6" stroke-opacity="0.32"/>
<circle cx="58.19" cy="118.91" r="2.2" fill="none" stroke="#c8b9f0" stroke-width="0.6" stroke-opacity="0.32"/>
<circle cx="111.85" cy="110.72" r="2.2" fill="none" stroke="#c8b9f0" stroke-width="0.6" stroke-opacity="0.32"/>
<circle cx="165.50" cy="125.15" r="2.2" fill="none" stroke="#c8b9f0" stroke-width="0.6" stroke-opacity="0.32"/>
<circle cx="219.15" cy="119.88" r="2.2" fill="none" stroke="#c8b9f0" stroke-width="0.6" stroke-opacity="0.32"/>
<circle cx="272.81" cy="136.65" r="2.2" fill="none" stroke="#c8b9f0" stroke-width="0.6" stroke-opacity="0.32"/>
<circle cx="58.19" cy="122.81" r="2.2" fill="none" stroke="#c8b9f0" stroke-width="0.6" stroke-opacity="0.32"/>
<circle cx="111.85" cy="105.45" r="2.2" fill="none" stroke="#c8b9f0" stroke-width="0.6" stroke-opacity="0.32"/>
<circle cx="165.50" cy="119.88" r="2.2" fill="none" stroke="#c8b9f0" stroke-width="0.6" stroke-opacity="0.32"/>
<circle cx="58.19" cy="131.97" r="2.2" fill="none" stroke="#c8b9f0" stroke-width="0.6" stroke-opacity="0.32"/>
<circle cx="111.85" cy="131.97" r="2.2" fill="none" stroke="#c8b9f0" stroke-width="0.6" stroke-opacity="0.32"/>
<circle cx="165.50" cy="122.61" r="2.2" fill="none" stroke="#c8b9f0" stroke-width="0.6" stroke-opacity="0.32"/>
<circle cx="219.15" cy="125.54" r="2.2" fill="none" stroke="#c8b9f0" stroke-width="0.6" stroke-opacity="0.32"/>
<circle cx="272.81" cy="130.22" r="2.2" fill="none" stroke="#c8b9f0" stroke-width="0.6" stroke-opacity="0.32"/>
<circle cx="58.19" cy="131.97" r="2.2" fill="none" stroke="#c8b9f0" stroke-width="0.6" stroke-opacity="0.32"/>
<circle cx="111.85" cy="136.65" r="2.2" fill="none" stroke="#c8b9f0" stroke-width="0.6" stroke-opacity="0.32"/>
<circle cx="165.50" cy="136.65" r="2.2" fill="none" stroke="#c8b9f0" stroke-width="0.6" stroke-opacity="0.32"/>
<circle cx="219.15" cy="136.65" r="2.2" fill="none" stroke="#c8b9f0" stroke-width="0.6" stroke-opacity="0.32"/>
<circle cx="272.81" cy="129.44" r="2.2" fill="none" stroke="#c8b9f0" stroke-width="0.6" stroke-opacity="0.32"/>
<circle cx="58.19" cy="121.83" r="2.2" fill="none" stroke="#c8b9f0" stroke-width="0.6" stroke-opacity="0.32"/>
<circle cx="111.85" cy="115.40" r="2.2" fill="none" stroke="#c8b9f0" stroke-width="0.6" stroke-opacity="0.32"/>
<circle cx="165.50" cy="114.42" r="2.2" fill="none" stroke="#c8b9f0" stroke-width="0.6" stroke-opacity="0.32"/>
<circle cx="219.15" cy="110.52" r="2.2" fill="none" stroke="#c8b9f0" stroke-width="0.6" stroke-opacity="0.32"/>
<circle cx="272.81" cy="121.64" r="2.2" fill="none" stroke="#c8b9f0" stroke-width="0.6" stroke-opacity="0.32"/>
<circle cx="58.19" cy="127.88" r="2.2" fill="none" stroke="#c8b9f0" stroke-width="0.6" stroke-opacity="0.32"/>
<circle cx="111.85" cy="115.20" r="2.2" fill="none" stroke="#c8b9f0" stroke-width="0.6" stroke-opacity="0.32"/>
<circle cx="165.50" cy="126.12" r="2.2" fill="none" stroke="#c8b9f0" stroke-width="0.6" stroke-opacity="0.32"/>
<circle cx="219.15" cy="126.90" r="2.2" fill="none" stroke="#c8b9f0" stroke-width="0.6" stroke-opacity="0.32"/>
<circle cx="272.81" cy="136.65" r="2.2" fill="none" stroke="#c8b9f0" stroke-width="0.6" stroke-opacity="0.32"/>
<circle cx="58.19" cy="129.83" r="2.2" fill="none" stroke="#c8b9f0" stroke-width="0.6" stroke-opacity="0.32"/>
<circle cx="111.85" cy="125.73" r="2.2" fill="none" stroke="#c8b9f0" stroke-width="0.6" stroke-opacity="0.32"/>
<circle cx="165.50" cy="115.79" r="2.2" fill="none" stroke="#c8b9f0" stroke-width="0.6" stroke-opacity="0.32"/>
<circle cx="219.15" cy="134.70" r="2.2" fill="none" stroke="#c8b9f0" stroke-width="0.6" stroke-opacity="0.32"/>
<circle cx="272.81" cy="136.65" r="2.2" fill="none" stroke="#c8b9f0" stroke-width="0.6" stroke-opacity="0.32"/>
<circle cx="58.19" cy="123.39" r="2.2" fill="none" stroke="#c8b9f0" stroke-width="0.6" stroke-opacity="0.32"/>
<circle cx="111.85" cy="129.63" r="2.2" fill="none" stroke="#c8b9f0" stroke-width="0.6" stroke-opacity="0.32"/>
<circle cx="165.50" cy="130.80" r="2.2" fill="none" stroke="#c8b9f0" stroke-width="0.6" stroke-opacity="0.32"/>
<circle cx="219.15" cy="122.42" r="2.2" fill="none" stroke="#c8b9f0" stroke-width="0.6" stroke-opacity="0.32"/>
<circle cx="272.81" cy="131.78" r="2.2" fill="none" stroke="#c8b9f0" stroke-width="0.6" stroke-opacity="0.32"/>
<circle cx="58.19" cy="122.22" r="2.2" fill="none" stroke="#c8b9f0" stroke-width="0.6" stroke-opacity="0.32"/>
<circle cx="111.85" cy="134.90" r="2.2" fill="none" stroke="#c8b9f0" stroke-width="0.6" stroke-opacity="0.32"/>
<circle cx="219.15" cy="130.22" r="2.2" fill="none" stroke="#c8b9f0" stroke-width="0.6" stroke-opacity="0.32"/>
<circle cx="272.81" cy="136.65" r="2.2" fill="none" stroke="#c8b9f0" stroke-width="0.6" stroke-opacity="0.32"/>
<circle cx="58.19" cy="131.97" r="2.2" fill="none" stroke="#c8b9f0" stroke-width="0.6" stroke-opacity="0.32"/>
<circle cx="111.85" cy="115.01" r="2.2" fill="none" stroke="#c8b9f0" stroke-width="0.6" stroke-opacity="0.32"/>
<circle cx="165.50" cy="118.71" r="2.2" fill="none" stroke="#c8b9f0" stroke-width="0.6" stroke-opacity="0.32"/>
<circle cx="219.15" cy="125.54" r="2.2" fill="none" stroke="#c8b9f0" stroke-width="0.6" stroke-opacity="0.32"/>
<circle cx="272.81" cy="134.50" r="2.2" fill="none" stroke="#c8b9f0" stroke-width="0.6" stroke-opacity="0.32"/>
<circle cx="58.19" cy="134.90" r="2.2" fill="none" stroke="#c8b9f0" stroke-width="0.6" stroke-opacity="0.32"/>
<circle cx="111.85" cy="130.80" r="2.2" fill="none" stroke="#c8b9f0" stroke-width="0.6" stroke-opacity="0.32"/>
<circle cx="165.50" cy="132.75" r="2.2" fill="none" stroke="#c8b9f0" stroke-width="0.6" stroke-opacity="0.32"/>
<circle cx="219.15" cy="131.38" r="2.2" fill="none" stroke="#c8b9f0" stroke-width="0.6" stroke-opacity="0.32"/>
<circle cx="272.81" cy="131.78" r="2.2" fill="none" stroke="#c8b9f0" stroke-width="0.6" stroke-opacity="0.32"/>
<circle cx="58.19" cy="123.59" r="2.2" fill="none" stroke="#c8b9f0" stroke-width="0.6" stroke-opacity="0.32"/>
<circle cx="111.85" cy="104.67" r="2.2" fill="none" stroke="#c8b9f0" stroke-width="0.6" stroke-opacity="0.32"/>
<circle cx="165.50" cy="125.34" r="2.2" fill="none" stroke="#c8b9f0" stroke-width="0.6" stroke-opacity="0.32"/>
<circle cx="219.15" cy="118.52" r="2.2" fill="none" stroke="#c8b9f0" stroke-width="0.6" stroke-opacity="0.32"/>
<circle cx="272.81" cy="130.61" r="2.2" fill="none" stroke="#c8b9f0" stroke-width="0.6" stroke-opacity="0.32"/>
<circle cx="58.19" cy="116.96" r="2.2" fill="none" stroke="#c8b9f0" stroke-width="0.6" stroke-opacity="0.32"/>
<circle cx="111.85" cy="116.56" r="2.2" fill="none" stroke="#c8b9f0" stroke-width="0.6" stroke-opacity="0.32"/>
<circle cx="165.50" cy="115.20" r="2.2" fill="none" stroke="#c8b9f0" stroke-width="0.6" stroke-opacity="0.32"/>
<circle cx="219.15" cy="116.56" r="2.2" fill="none" stroke="#c8b9f0" stroke-width="0.6" stroke-opacity="0.32"/>
<circle cx="272.81" cy="122.22" r="2.2" fill="none" stroke="#c8b9f0" stroke-width="0.6" stroke-opacity="0.32"/>
<circle cx="58.19" cy="112.08" r="2.2" fill="none" stroke="#c8b9f0" stroke-width="0.6" stroke-opacity="0.32"/>
<circle cx="165.50" cy="128.85" r="2.2" fill="none" stroke="#c8b9f0" stroke-width="0.6" stroke-opacity="0.32"/>
<circle cx="272.81" cy="126.90" r="2.2" fill="none" stroke="#c8b9f0" stroke-width="0.6" stroke-opacity="0.32"/>
<circle cx="58.19" cy="127.09" r="2.2" fill="none" stroke="#c8b9f0" stroke-width="0.6" stroke-opacity="0.32"/>
<circle cx="111.85" cy="130.22" r="2.2" fill="none" stroke="#c8b9f0" stroke-width="0.6" stroke-opacity="0.32"/>
<circle cx="165.50" cy="127.29" r="2.2" fill="none" stroke="#c8b9f0" stroke-width="0.6" stroke-opacity="0.32"/>
<circle cx="219.15" cy="130.61" r="2.2" fill="none" stroke="#c8b9f0" stroke-width="0.6" stroke-opacity="0.32"/>
<circle cx="272.81" cy="132.94" r="2.2" fill="none" stroke="#c8b9f0" stroke-width="0.6" stroke-opacity="0.32"/>
<circle cx="58.19" cy="136.46" r="2.2" fill="none" stroke="#c8b9f0" stroke-width="0.6" stroke-opacity="0.32"/>
<circle cx="111.85" cy="134.31" r="2.2" fill="none" stroke="#c8b9f0" stroke-width="0.6" stroke-opacity="0.32"/>
<circle cx="165.50" cy="124.17" r="2.2" fill="none" stroke="#c8b9f0" stroke-width="0.6" stroke-opacity="0.32"/>
<circle cx="219.15" cy="130.02" r="2.2" fill="none" stroke="#c8b9f0" stroke-width="0.6" stroke-opacity="0.32"/>
<circle cx="272.81" cy="133.53" r="2.2" fill="none" stroke="#c8b9f0" stroke-width="0.6" stroke-opacity="0.32"/>
<circle cx="58.19" cy="129.24" r="2.2" fill="none" stroke="#c8b9f0" stroke-width="0.6" stroke-opacity="0.32"/>
<circle cx="111.85" cy="115.20" r="2.2" fill="none" stroke="#c8b9f0" stroke-width="0.6" stroke-opacity="0.32"/>
<circle cx="165.50" cy="124.37" r="2.2" fill="none" stroke="#c8b9f0" stroke-width="0.6" stroke-opacity="0.32"/>
<circle cx="272.81" cy="123.78" r="2.2" fill="none" stroke="#c8b9f0" stroke-width="0.6" stroke-opacity="0.32"/>
<circle cx="58.19" cy="117.34" r="2.2" fill="none" stroke="#c8b9f0" stroke-width="0.6" stroke-opacity="0.32"/>
<circle cx="111.85" cy="116.37" r="2.2" fill="none" stroke="#c8b9f0" stroke-width="0.6" stroke-opacity="0.32"/>
<circle cx="165.50" cy="114.42" r="2.2" fill="none" stroke="#c8b9f0" stroke-width="0.6" stroke-opacity="0.32"/>
<circle cx="219.15" cy="124.37" r="2.2" fill="none" stroke="#c8b9f0" stroke-width="0.6" stroke-opacity="0.32"/>
<circle cx="272.81" cy="121.83" r="2.2" fill="none" stroke="#c8b9f0" stroke-width="0.6" stroke-opacity="0.32"/>
<line x1="224.60" y1="10.4" x2="224.60" y2="142.4" stroke="#505050" stroke-width="1.3"/>
<line x1="267.80" y1="10.4" x2="267.80" y2="142.4" stroke="#505050" stroke-width="1.3"/>
<text x="165.50" y="6.15" text-anchor="middle" font-size="9.2" textLength="30.49" lengthAdjust="spacingAndGlyphs" fill="#1a1a1a" stroke="#1a1a1a" stroke-width="0.2" font-family="Liberation Sans, sans-serif">Resilient</text>
<path d="M342.39,61.58 L503.35,124.95 M503.35,124.95 L557.01,118.91" fill="none" stroke="#732b4b" stroke-width="1.0" stroke-dasharray="1.0 2.0"/>
<path d="M342.39,112.08 L396.05,73.47 M396.05,73.47 L449.70,90.44 M449.70,90.44 L503.35,122.03 M503.35,122.03 L557.01,124.95" fill="none" stroke="#732b4b" stroke-width="1.0" stroke-dasharray="1.0 2.0"/>
<path d="M342.39,75.42 L449.70,99.60 M449.70,99.60 L557.01,116.96" fill="none" stroke="#732b4b" stroke-width="1.0" stroke-dasharray="1.0 2.0"/>
<path d="M342.39,81.08 L396.05,97.65 M396.05,97.65 L449.70,110.91 M449.70,110.91 L557.01,97.46" fill="none" stroke="#732b4b" stroke-width="1.0" stroke-dasharray="1.0 2.0"/>
<path d="M342.39,84.78 L449.70,117.93 M449.70,117.93 L503.35,131.19 M503.35,131.19 L557.01,130.80" fill="none" stroke="#732b4b" stroke-width="1.0" stroke-dasharray="1.0 2.0"/>
<path d="M342.39,87.51 L396.05,99.41 M396.05,99.41 L449.70,123.20 M449.70,123.20 L503.35,133.14 M503.35,133.14 L557.01,136.46" fill="none" stroke="#732b4b" stroke-width="1.0" stroke-dasharray="1.0 2.0"/>
<path d="M342.39,90.05 L449.70,125.34 M449.70,125.34 L503.35,134.99 M503.35,134.99 L557.01,130.80" fill="none" stroke="#732b4b" stroke-width="1.0" stroke-dasharray="1.0 2.0"/>
<path d="M342.39,98.82 L396.05,111.50 M396.05,111.50 L449.70,117.93 M449.70,117.93 L503.35,136.65 M503.35,136.65 L557.01,124.95" fill="none" stroke="#732b4b" stroke-width="1.0" stroke-dasharray="1.0 2.0"/>
<path d="M342.39,99.60 L449.70,129.63 M449.70,129.63 L503.35,136.65 M503.35,136.65 L557.01,136.46" fill="none" stroke="#732b4b" stroke-width="1.0" stroke-dasharray="1.0 2.0"/>
<path d="M342.39,105.06 L396.05,114.81 M396.05,114.81 L449.70,123.20 M449.70,123.20 L503.35,131.19 M503.35,131.19 L557.01,118.91" fill="none" stroke="#732b4b" stroke-width="1.0" stroke-dasharray="1.0 2.0"/>
<path d="M342.39,125.15 L396.05,111.89 M396.05,111.89 L449.70,125.34 M449.70,125.34 L503.35,133.14 M503.35,133.14 L557.01,116.96" fill="none" stroke="#732b4b" stroke-width="1.0" stroke-dasharray="1.0 2.0"/>
<path d="M342.39,130.41 L396.05,117.15 M396.05,117.15 L449.70,129.63 M449.70,129.63 L503.35,134.99 M503.35,134.99 L557.01,136.46" fill="none" stroke="#732b4b" stroke-width="1.0" stroke-dasharray="1.0 2.0"/>
<circle cx="342.39" cy="61.58" r="2.2" fill="none" stroke="#732b4b" stroke-width="0.6"/>
<circle cx="503.35" cy="124.95" r="2.2" fill="none" stroke="#732b4b" stroke-width="0.6"/>
<circle cx="557.01" cy="118.91" r="2.2" fill="none" stroke="#732b4b" stroke-width="0.6"/>
<circle cx="342.39" cy="112.08" r="2.2" fill="none" stroke="#732b4b" stroke-width="0.6"/>
<circle cx="396.05" cy="73.47" r="2.2" fill="none" stroke="#732b4b" stroke-width="0.6"/>
<circle cx="449.70" cy="90.44" r="2.2" fill="none" stroke="#732b4b" stroke-width="0.6"/>
<circle cx="503.35" cy="122.03" r="2.2" fill="none" stroke="#732b4b" stroke-width="0.6"/>
<circle cx="557.01" cy="124.95" r="2.2" fill="none" stroke="#732b4b" stroke-width="0.6"/>
<circle cx="342.39" cy="75.42" r="2.2" fill="none" stroke="#732b4b" stroke-width="0.6"/>
<circle cx="449.70" cy="99.60" r="2.2" fill="none" stroke="#732b4b" stroke-width="0.6"/>
<circle cx="557.01" cy="116.96" r="2.2" fill="none" stroke="#732b4b" stroke-width="0.6"/>
<circle cx="342.39" cy="81.08" r="2.2" fill="none" stroke="#732b4b" stroke-width="0.6"/>
<circle cx="396.05" cy="97.65" r="2.2" fill="none" stroke="#732b4b" stroke-width="0.6"/>
<circle cx="449.70" cy="110.91" r="2.2" fill="none" stroke="#732b4b" stroke-width="0.6"/>
<circle cx="557.01" cy="97.46" r="2.2" fill="none" stroke="#732b4b" stroke-width="0.6"/>
<circle cx="342.39" cy="84.78" r="2.2" fill="none" stroke="#732b4b" stroke-width="0.6"/>
<circle cx="449.70" cy="117.93" r="2.2" fill="none" stroke="#732b4b" stroke-width="0.6"/>
<circle cx="503.35" cy="131.19" r="2.2" fill="none" stroke="#732b4b" stroke-width="0.6"/>
<circle cx="557.01" cy="130.80" r="2.2" fill="none" stroke="#732b4b" stroke-width="0.6"/>
<circle cx="342.39" cy="87.51" r="2.2" fill="none" stroke="#732b4b" stroke-width="0.6"/>
<circle cx="396.05" cy="99.41" r="2.2" fill="none" stroke="#732b4b" stroke-width="0.6"/>
<circle cx="449.70" cy="123.20" r="2.2" fill="none" stroke="#732b4b" stroke-width="0.6"/>
<circle cx="503.35" cy="133.14" r="2.2" fill="none" stroke="#732b4b" stroke-width="0.6"/>
<circle cx="557.01" cy="136.46" r="2.2" fill="none" stroke="#732b4b" stroke-width="0.6"/>
<circle cx="342.39" cy="90.05" r="2.2" fill="none" stroke="#732b4b" stroke-width="0.6"/>
<circle cx="449.70" cy="125.34" r="2.2" fill="none" stroke="#732b4b" stroke-width="0.6"/>
<circle cx="503.35" cy="134.99" r="2.2" fill="none" stroke="#732b4b" stroke-width="0.6"/>
<circle cx="557.01" cy="130.80" r="2.2" fill="none" stroke="#732b4b" stroke-width="0.6"/>
<circle cx="342.39" cy="98.82" r="2.2" fill="none" stroke="#732b4b" stroke-width="0.6"/>
<circle cx="396.05" cy="111.50" r="2.2" fill="none" stroke="#732b4b" stroke-width="0.6"/>
<circle cx="449.70" cy="117.93" r="2.2" fill="none" stroke="#732b4b" stroke-width="0.6"/>
<circle cx="503.35" cy="136.65" r="2.2" fill="none" stroke="#732b4b" stroke-width="0.6"/>
<circle cx="557.01" cy="124.95" r="2.2" fill="none" stroke="#732b4b" stroke-width="0.6"/>
<circle cx="342.39" cy="99.60" r="2.2" fill="none" stroke="#732b4b" stroke-width="0.6"/>
<circle cx="449.70" cy="129.63" r="2.2" fill="none" stroke="#732b4b" stroke-width="0.6"/>
<circle cx="503.35" cy="136.65" r="2.2" fill="none" stroke="#732b4b" stroke-width="0.6"/>
<circle cx="557.01" cy="136.46" r="2.2" fill="none" stroke="#732b4b" stroke-width="0.6"/>
<circle cx="342.39" cy="105.06" r="2.2" fill="none" stroke="#732b4b" stroke-width="0.6"/>
<circle cx="396.05" cy="114.81" r="2.2" fill="none" stroke="#732b4b" stroke-width="0.6"/>
<circle cx="449.70" cy="123.20" r="2.2" fill="none" stroke="#732b4b" stroke-width="0.6"/>
<circle cx="503.35" cy="131.19" r="2.2" fill="none" stroke="#732b4b" stroke-width="0.6"/>
<circle cx="557.01" cy="118.91" r="2.2" fill="none" stroke="#732b4b" stroke-width="0.6"/>
<circle cx="342.39" cy="125.15" r="2.2" fill="none" stroke="#732b4b" stroke-width="0.6"/>
<circle cx="396.05" cy="111.89" r="2.2" fill="none" stroke="#732b4b" stroke-width="0.6"/>
<circle cx="449.70" cy="125.34" r="2.2" fill="none" stroke="#732b4b" stroke-width="0.6"/>
<circle cx="503.35" cy="133.14" r="2.2" fill="none" stroke="#732b4b" stroke-width="0.6"/>
<circle cx="557.01" cy="116.96" r="2.2" fill="none" stroke="#732b4b" stroke-width="0.6"/>
<circle cx="342.39" cy="130.41" r="2.2" fill="none" stroke="#732b4b" stroke-width="0.6"/>
<circle cx="396.05" cy="117.15" r="2.2" fill="none" stroke="#732b4b" stroke-width="0.6"/>
<circle cx="449.70" cy="129.63" r="2.2" fill="none" stroke="#732b4b" stroke-width="0.6"/>
<circle cx="503.35" cy="134.99" r="2.2" fill="none" stroke="#732b4b" stroke-width="0.6"/>
<circle cx="557.01" cy="136.46" r="2.2" fill="none" stroke="#732b4b" stroke-width="0.6"/>
<line x1="508.90" y1="10.4" x2="508.90" y2="142.4" stroke="#505050" stroke-width="1.3"/>
<line x1="551.50" y1="10.4" x2="551.50" y2="142.4" stroke="#505050" stroke-width="1.3"/>
<text x="449.70" y="6.15" text-anchor="middle" font-size="9.2" textLength="33.58" lengthAdjust="spacingAndGlyphs" fill="#1a1a1a" stroke="#1a1a1a" stroke-width="0.2" font-family="Liberation Sans, sans-serif">Recovery</text>
<path d="M58.19,201.06 L111.85,235.96 M111.85,235.96 L165.50,220.56 M165.50,220.56 L219.15,226.22 M219.15,226.22 L272.81,265.21" fill="none" stroke="#b9a035" stroke-width="1.0" stroke-dasharray="1.0 2.0"/>
<path d="M58.19,223.09 L165.50,223.68 M165.50,223.68 L219.15,236.94 M219.15,236.94 L272.81,272.82" fill="none" stroke="#b9a035" stroke-width="1.0" stroke-dasharray="1.0 2.0"/>
<path d="M58.19,223.68 L219.15,244.94 M219.15,244.94 L272.81,286.47" fill="none" stroke="#b9a035" stroke-width="1.0" stroke-dasharray="1.0 2.0"/>
<path d="M58.19,247.08 L111.85,235.96 M111.85,235.96 L165.50,224.07 M165.50,224.07 L219.15,241.03 M219.15,241.03 L272.81,272.82" fill="none" stroke="#b9a035" stroke-width="1.0" stroke-dasharray="1.0 2.0"/>
<path d="M58.19,247.08 L111.85,253.71 M111.85,253.71 L165.50,257.41 M165.50,257.41 L219.15,241.42 M219.15,241.42 L272.81,265.21" fill="none" stroke="#b9a035" stroke-width="1.0" stroke-dasharray="1.0 2.0"/>
<path d="M58.19,168.30 L111.85,214.90 L219.15,210.42 L272.81,209.06" fill="none" stroke="#b9a035" stroke-width="1.15"/>
<path d="M165.50,239.47 L219.15,208.47 L272.81,216.85" fill="none" stroke="#b9a035" stroke-width="1.15"/>
<circle cx="58.19" cy="168.30" r="2.2" fill="#b9a035"/>
<circle cx="111.85" cy="214.90" r="2.2" fill="#b9a035"/>
<circle cx="219.15" cy="210.42" r="2.2" fill="#b9a035"/>
<circle cx="272.81" cy="209.06" r="2.2" fill="#b9a035"/>
<circle cx="165.50" cy="239.47" r="2.2" fill="#b9a035"/>
<circle cx="219.15" cy="208.47" r="2.2" fill="#b9a035"/>
<circle cx="272.81" cy="216.85" r="2.2" fill="#b9a035"/>
<circle cx="58.19" cy="201.06" r="2.2" fill="none" stroke="#b9a035" stroke-width="0.6"/>
<circle cx="111.85" cy="235.96" r="2.2" fill="none" stroke="#b9a035" stroke-width="0.6"/>
<circle cx="165.50" cy="220.56" r="2.2" fill="none" stroke="#b9a035" stroke-width="0.6"/>
<circle cx="219.15" cy="226.22" r="2.2" fill="none" stroke="#b9a035" stroke-width="0.6"/>
<circle cx="272.81" cy="265.21" r="2.2" fill="none" stroke="#b9a035" stroke-width="0.6"/>
<circle cx="58.19" cy="223.09" r="2.2" fill="none" stroke="#b9a035" stroke-width="0.6"/>
<circle cx="165.50" cy="223.68" r="2.2" fill="none" stroke="#b9a035" stroke-width="0.6"/>
<circle cx="219.15" cy="236.94" r="2.2" fill="none" stroke="#b9a035" stroke-width="0.6"/>
<circle cx="272.81" cy="272.82" r="2.2" fill="none" stroke="#b9a035" stroke-width="0.6"/>
<circle cx="58.19" cy="223.68" r="2.2" fill="none" stroke="#b9a035" stroke-width="0.6"/>
<circle cx="219.15" cy="244.94" r="2.2" fill="none" stroke="#b9a035" stroke-width="0.6"/>
<circle cx="272.81" cy="286.47" r="2.2" fill="none" stroke="#b9a035" stroke-width="0.6"/>
<circle cx="58.19" cy="247.08" r="2.2" fill="none" stroke="#b9a035" stroke-width="0.6"/>
<circle cx="111.85" cy="235.96" r="2.2" fill="none" stroke="#b9a035" stroke-width="0.6"/>
<circle cx="165.50" cy="224.07" r="2.2" fill="none" stroke="#b9a035" stroke-width="0.6"/>
<circle cx="219.15" cy="241.03" r="2.2" fill="none" stroke="#b9a035" stroke-width="0.6"/>
<circle cx="272.81" cy="272.82" r="2.2" fill="none" stroke="#b9a035" stroke-width="0.6"/>
<circle cx="58.19" cy="247.08" r="2.2" fill="none" stroke="#b9a035" stroke-width="0.6"/>
<circle cx="111.85" cy="253.71" r="2.2" fill="none" stroke="#b9a035" stroke-width="0.6"/>
<circle cx="165.50" cy="257.41" r="2.2" fill="none" stroke="#b9a035" stroke-width="0.6"/>
<circle cx="219.15" cy="241.42" r="2.2" fill="none" stroke="#b9a035" stroke-width="0.6"/>
<circle cx="272.81" cy="265.21" r="2.2" fill="none" stroke="#b9a035" stroke-width="0.6"/>
<line x1="224.60" y1="163.0" x2="224.60" y2="295.4" stroke="#505050" stroke-width="1.3"/>
<line x1="267.80" y1="163.0" x2="267.80" y2="295.4" stroke="#505050" stroke-width="1.3"/>
<text x="165.50" y="158.45" text-anchor="middle" font-size="9.2" textLength="27.39" lengthAdjust="spacingAndGlyphs" fill="#1a1a1a" stroke="#1a1a1a" stroke-width="0.2" font-family="Liberation Sans, sans-serif">Chronic</text>
<path d="M342.39,270.09 L503.35,230.89 M503.35,230.89 L557.01,259.56" fill="none" stroke="#e4749f" stroke-width="1.0" stroke-dasharray="1.0 2.0"/>
<path d="M342.39,247.47 L396.05,239.67 L449.70,256.44 L503.35,211.59 L557.01,236.16" fill="none" stroke="#e4749f" stroke-width="1.15"/>
<path d="M342.39,258.97 L396.05,255.46 L449.70,232.65 L503.35,235.77 L557.01,224.65" fill="none" stroke="#e4749f" stroke-width="1.15"/>
<circle cx="342.39" cy="247.47" r="2.2" fill="#e4749f"/>
<circle cx="396.05" cy="239.67" r="2.2" fill="#e4749f"/>
<circle cx="449.70" cy="256.44" r="2.2" fill="#e4749f"/>
<circle cx="503.35" cy="211.59" r="2.2" fill="#e4749f"/>
<circle cx="557.01" cy="236.16" r="2.2" fill="#e4749f"/>
<circle cx="342.39" cy="258.97" r="2.2" fill="#e4749f"/>
<circle cx="396.05" cy="255.46" r="2.2" fill="#e4749f"/>
<circle cx="449.70" cy="232.65" r="2.2" fill="#e4749f"/>
<circle cx="503.35" cy="235.77" r="2.2" fill="#e4749f"/>
<circle cx="557.01" cy="224.65" r="2.2" fill="#e4749f"/>
<circle cx="342.39" cy="270.09" r="2.2" fill="none" stroke="#e4749f" stroke-width="0.6"/>
<circle cx="503.35" cy="230.89" r="2.2" fill="none" stroke="#e4749f" stroke-width="0.6"/>
<circle cx="557.01" cy="259.56" r="2.2" fill="none" stroke="#e4749f" stroke-width="0.6"/>
<line x1="508.90" y1="163.0" x2="508.90" y2="295.4" stroke="#505050" stroke-width="1.3"/>
<line x1="551.50" y1="163.0" x2="551.50" y2="295.4" stroke="#505050" stroke-width="1.3"/>
<text x="449.70" y="158.45" text-anchor="middle" font-size="9.2" textLength="29.17" lengthAdjust="spacingAndGlyphs" fill="#1a1a1a" stroke="#1a1a1a" stroke-width="0.2" font-family="Liberation Sans, sans-serif">Delayed</text>
<line x1="26.3" y1="10.4" x2="26.3" y2="143.0" stroke="#262626" stroke-width="1.2"/>
<line x1="24.1" y1="136.65" x2="26.3" y2="136.65" stroke="#333" stroke-width="1"/>
<text x="22.00" y="140.25" text-anchor="end" font-size="9.0" textLength="4.78" lengthAdjust="spacingAndGlyphs" fill="#3d3d3d" font-family="Liberation Sans, sans-serif">0</text>
<line x1="24.1" y1="97.65" x2="26.3" y2="97.65" stroke="#333" stroke-width="1"/>
<text x="22.00" y="101.25" text-anchor="end" font-size="9.0" textLength="9.57" lengthAdjust="spacingAndGlyphs" fill="#3d3d3d" font-family="Liberation Sans, sans-serif">20</text>
<line x1="24.1" y1="58.65" x2="26.3" y2="58.65" stroke="#333" stroke-width="1"/>
<text x="22.00" y="62.25" text-anchor="end" font-size="9.0" textLength="9.57" lengthAdjust="spacingAndGlyphs" fill="#3d3d3d" font-family="Liberation Sans, sans-serif">40</text>
<line x1="24.1" y1="19.65" x2="26.3" y2="19.65" stroke="#333" stroke-width="1"/>
<text x="22.00" y="23.25" text-anchor="end" font-size="9.0" textLength="9.57" lengthAdjust="spacingAndGlyphs" fill="#3d3d3d" font-family="Liberation Sans, sans-serif">60</text>
<line x1="26.3" y1="163.0" x2="26.3" y2="296.0" stroke="#262626" stroke-width="1.2"/>
<line x1="24.1" y1="289.20" x2="26.3" y2="289.20" stroke="#333" stroke-width="1"/>
<text x="22.00" y="292.80" text-anchor="end" font-size="9.0" textLength="4.78" lengthAdjust="spacingAndGlyphs" fill="#3d3d3d" font-family="Liberation Sans, sans-serif">0</text>
<line x1="24.1" y1="250.20" x2="26.3" y2="250.20" stroke="#333" stroke-width="1"/>
<text x="22.00" y="253.80" text-anchor="end" font-size="9.0" textLength="9.57" lengthAdjust="spacingAndGlyphs" fill="#3d3d3d" font-family="Liberation Sans, sans-serif">20</text>
<line x1="24.1" y1="211.20" x2="26.3" y2="211.20" stroke="#333" stroke-width="1"/>
<text x="22.00" y="214.80" text-anchor="end" font-size="9.0" textLength="9.57" lengthAdjust="spacingAndGlyphs" fill="#3d3d3d" font-family="Liberation Sans, sans-serif">40</text>
<line x1="24.1" y1="172.20" x2="26.3" y2="172.20" stroke="#333" stroke-width="1"/>
<text x="22.00" y="175.80" text-anchor="end" font-size="9.0" textLength="9.57" lengthAdjust="spacingAndGlyphs" fill="#3d3d3d" font-family="Liberation Sans, sans-serif">60</text>
<line x1="25.7" y1="295.4" x2="305.0" y2="295.4" stroke="#262626" stroke-width="1.2"/>
<line x1="58.19" y1="295.4" x2="58.19" y2="297.7" stroke="#333" stroke-width="1"/>
<text x="58.19" y="307.80" text-anchor="middle" font-size="9.0" textLength="9.92" lengthAdjust="spacingAndGlyphs" fill="#3d3d3d" font-family="Liberation Sans, sans-serif">T1</text>
<line x1="111.85" y1="295.4" x2="111.85" y2="297.7" stroke="#333" stroke-width="1"/>
<text x="111.85" y="307.80" text-anchor="middle" font-size="9.0" textLength="9.92" lengthAdjust="spacingAndGlyphs" fill="#3d3d3d" font-family="Liberation Sans, sans-serif">T2</text>
<line x1="165.50" y1="295.4" x2="165.50" y2="297.7" stroke="#333" stroke-width="1"/>
<text x="165.50" y="307.80" text-anchor="middle" font-size="9.0" textLength="9.92" lengthAdjust="spacingAndGlyphs" fill="#3d3d3d" font-family="Liberation Sans, sans-serif">T3</text>
<line x1="219.15" y1="295.4" x2="219.15" y2="297.7" stroke="#333" stroke-width="1"/>
<text x="219.15" y="307.80" text-anchor="middle" font-size="9.0" textLength="9.92" lengthAdjust="spacingAndGlyphs" fill="#3d3d3d" font-family="Liberation Sans, sans-serif">T4</text>
<line x1="272.81" y1="295.4" x2="272.81" y2="297.7" stroke="#333" stroke-width="1"/>
<text x="272.81" y="307.80" text-anchor="middle" font-size="9.0" textLength="9.92" lengthAdjust="spacingAndGlyphs" fill="#3d3d3d" font-family="Liberation Sans, sans-serif">T5</text>
<line x1="309.59999999999997" y1="295.4" x2="589.2" y2="295.4" stroke="#262626" stroke-width="1.2"/>
<line x1="342.39" y1="295.4" x2="342.39" y2="297.7" stroke="#333" stroke-width="1"/>
<text x="342.39" y="307.80" text-anchor="middle" font-size="9.0" textLength="9.92" lengthAdjust="spacingAndGlyphs" fill="#3d3d3d" font-family="Liberation Sans, sans-serif">T1</text>
<line x1="396.05" y1="295.4" x2="396.05" y2="297.7" stroke="#333" stroke-width="1"/>
<text x="396.05" y="307.80" text-anchor="middle" font-size="9.0" textLength="9.92" lengthAdjust="spacingAndGlyphs" fill="#3d3d3d" font-family="Liberation Sans, sans-serif">T2</text>
<line x1="449.70" y1="295.4" x2="449.70" y2="297.7" stroke="#333" stroke-width="1"/>
<text x="449.70" y="307.80" text-anchor="middle" font-size="9.0" textLength="9.92" lengthAdjust="spacingAndGlyphs" fill="#3d3d3d" font-family="Liberation Sans, sans-serif">T3</text>
<line x1="503.35" y1="295.4" x2="503.35" y2="297.7" stroke="#333" stroke-width="1"/>
<text x="503.35" y="307.80" text-anchor="middle" font-size="9.0" textLength="9.92" lengthAdjust="spacingAndGlyphs" fill="#3d3d3d" font-family="Liberation Sans, sans-serif">T4</text>
<line x1="557.01" y1="295.4" x2="557.01" y2="297.7" stroke="#333" stroke-width="1"/>
<text x="557.01" y="307.80" text-anchor="middle" font-size="9.0" textLength="9.92" lengthAdjust="spacingAndGlyphs" fill="#3d3d3d" font-family="Liberation Sans, sans-serif">T5</text>
<text x="307.8" y="317.6" text-anchor="middle" font-size="10.2" fill="#000" stroke="#000" stroke-width="0.15" font-family="Liberation Sans, sans-serif">Time post-trauma</text>
<text transform="translate(8.1,152.35) rotate(-90)" x="0" y="0" text-anchor="middle" font-size="10.5" fill="#000" stroke="#000" stroke-width="0.15" font-family="Liberation Sans, sans-serif">CAPS total score</text>
<text x="604.30" y="139.20" font-size="8.8" textLength="80.03" lengthAdjust="spacingAndGlyphs" fill="#000" stroke="#000" stroke-width="0.2" font-family="Liberation Sans, sans-serif">12-15 year post-trauma</text>
<line x1="605" y1="151.4" x2="617" y2="151.4" stroke="#000" stroke-width="0.9" stroke-dasharray="0.9 2.2"/>
<circle cx="610.9" cy="151.4" r="2.2" fill="#fff" stroke="#000" stroke-width="0.65"/>
<circle cx="610.9" cy="151.4" r="0.45" fill="#000"/>
<text x="623.20" y="154.80" font-size="8.3" textLength="31.67" lengthAdjust="spacingAndGlyphs" fill="#000" stroke="#000" stroke-width="0.2" font-family="Liberation Sans, sans-serif">No PTSD</text>
<line x1="605" y1="166.1" x2="617" y2="166.1" stroke="#000" stroke-width="1"/>
<circle cx="610.9" cy="166.1" r="2.2" fill="#000"/>
<text x="623.20" y="169.60" font-size="8.3" textLength="20.00" lengthAdjust="spacingAndGlyphs" fill="#000" stroke="#000" stroke-width="0.2" font-family="Liberation Sans, sans-serif">PTSD</text>
</svg>
</body></html>
